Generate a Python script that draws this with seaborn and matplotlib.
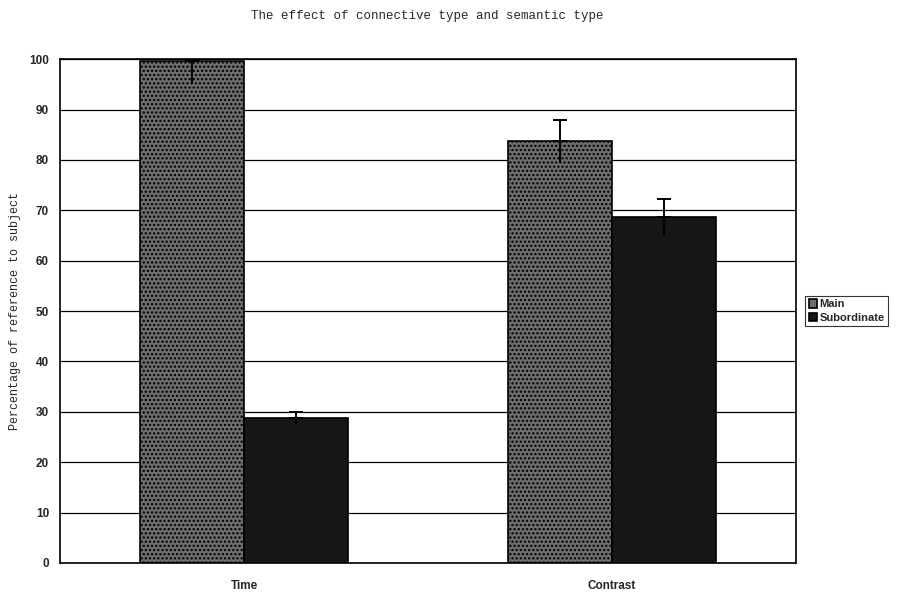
import pandas as pd
import matplotlib
matplotlib.use("Agg")
import matplotlib.pyplot as plt
import seaborn as sns

# values
categories = ["Time", "Contrast"]
main_vals = [99.6, 83.8]
main_err = [4.6, 4.2]
sub_vals = [28.8, 68.6]
sub_err = [1.2, 3.6]

df = pd.DataFrame({
    "type": categories * 2,
    "clause": ["Main"] * 2 + ["Subordinate"] * 2,
    "pct": main_vals + sub_vals,
})
errs = main_err + sub_err

sns.set_style("white")
plt.rcParams["hatch.linewidth"] = 1.1

fig = plt.figure(figsize=(8.99, 5.92), dpi=100)
ax = fig.add_axes([0.067, 0.049, 0.818, 0.851])

ax = sns.barplot(data=df, x="type", y="pct", hue="clause", order=categories,
                 hue_order=["Main", "Subordinate"],
                 palette=["#6e6e6e", "#161616"], width=0.566,
                 saturation=1, edgecolor="black", linewidth=1.2, ax=ax)

# stipple for the Main bars
for p in ax.patches[:2]:
    p.set_hatch("....")

# error bars: cap on top only, stem runs down into the bar
for p, e in zip(ax.patches[:4], errs):
    cx = p.get_x() + p.get_width() / 2
    h = p.get_height()
    ax.errorbar(cx, h, yerr=[[0], [e]], color="black", lw=1.4,
                capsize=5, capthick=1.4)
    ax.vlines(cx, h - e, h, color="black", lw=1.4)

ax.set_ylim(0, 100)
ax.set_xlim(-0.5, 1.5)
ax.set_yticks(range(0, 101, 10))
ax.yaxis.grid(True, color="black", lw=0.9)
ax.set_axisbelow(True)
for s in ax.spines.values():
    s.set_color("black")
    s.set_linewidth(1.2)

ax.tick_params(axis="y", direction="out", length=5, width=1, labelsize=8.5, pad=3)
ax.tick_params(axis="x", length=0, labelsize=8.5, pad=12)
ax.set_xticks([-0.5, 0.5, 1.5], minor=True)
ax.tick_params(axis="x", which="minor", direction="out", length=4, width=1)
for lbl in ax.get_yticklabels() + ax.get_xticklabels():
    lbl.set_fontweight("bold")
    lbl.set_family("Liberation Sans")

ax.set_xlabel("")
ax.set_ylabel("Percentage of reference to subject", family="Liberation Mono",
              fontsize=8.5, labelpad=6)
fig.suptitle("The effect of connective type and semantic type",
             family="Liberation Mono", fontsize=9, x=0.475, y=0.983)

leg = ax.legend(loc="center left", bbox_to_anchor=(1.013, 0.5), frameon=True,
                fancybox=False, edgecolor="black", handlelength=0.8,
                handleheight=0.8, handletextpad=0.2, borderpad=0.3,
                labelspacing=0.3, borderaxespad=0,
                prop={"family": "Liberation Sans", "weight": "bold", "size": 8})
leg.get_frame().set_linewidth(0.8)

fig.savefig("out.png", dpi=100)
plt.close()
